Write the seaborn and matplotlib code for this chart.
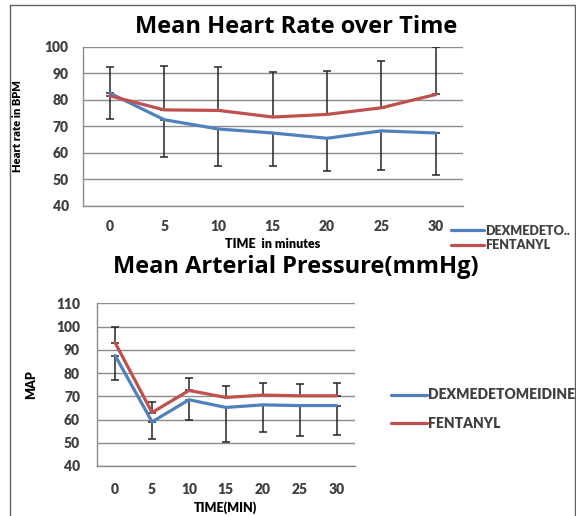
import numpy as np
import pandas as pd
import matplotlib
matplotlib.use('Agg')
import matplotlib.pyplot as plt
import seaborn as sns
from matplotlib.lines import Line2D

"""Values read off the reference"""
times = [0, 5, 10, 15, 20, 25, 30]

hr_dex = [82.5, 72.5, 69.0, 67.5, 65.5, 68.3, 67.5]
hr_fen = [81.5, 76.2, 76.0, 73.5, 74.5, 77.0, 82.0]
hr_upper = [92.5, 92.9, 92.4, 90.6, 90.8, 94.8, 100.0]   # top of fentanyl error bars
hr_lower = [72.8, 58.6, 55.0, 55.0, 53.3, 53.7, 51.7]    # bottom of dexmed error bars

map_dex = [87.5, 59.0, 68.5, 65.2, 66.3, 66.0, 66.0]
map_fen = [93.0, 63.0, 72.5, 69.5, 70.5, 70.2, 70.2]
map_upper = [99.8, 67.5, 78.0, 74.3, 75.5, 75.2, 75.5]
map_lower = [77.0, 51.7, 60.0, 50.2, 54.5, 52.8, 53.3]

BLUE = '#4F81BD'
RED = '#C0504D'
GRID = '#8c8c8c'
TXT = '#404040'

sns.set_style('white')
plt.rcParams['font.family'] = ['Lato', 'DejaVu Sans']
plt.rcParams['font.weight'] = 'bold'


def make_frame(dex, fen):
    df = pd.DataFrame({'time': times * 2,
                       'value': dex + fen,
                       'group': ['DEX'] * len(times) + ['FEN'] * len(times)})
    return df


def draw_panel(ax, dex, fen, upper, lower, ylim):
    df = make_frame(dex, fen)
    sns.lineplot(data=df, x='time', y='value', hue='group', palette=[BLUE, RED],
                 linewidth=2.3, ax=ax, legend=False, zorder=3)
    fen_a = np.array(fen)
    dex_a = np.array(dex)
    ax.errorbar(times, fen_a, yerr=[np.zeros(len(times)), np.array(upper) - fen_a],
                fmt='none', ecolor='#262626', elinewidth=1.1, capsize=3, capthick=1.1, zorder=2)
    ax.errorbar(times, dex_a, yerr=[dex_a - np.array(lower), np.zeros(len(times))],
                fmt='none', ecolor='#262626', elinewidth=1.1, capsize=3, capthick=1.1, zorder=2)

    ax.set_xlim(-2.5, 32.5)
    ax.set_ylim(*ylim)
    ax.set_xticks(times)
    ax.set_xticks(np.arange(-2.5, 33, 5), minor=True)
    ax.set_yticks(np.arange(ylim[0], ylim[1] + 1, 10))
    ax.yaxis.grid(True, color=GRID, linewidth=1)
    ax.xaxis.grid(False)
    for s in ['top', 'right']:
        ax.spines[s].set_visible(False)
    for s in ['left', 'bottom']:
        ax.spines[s].set_color(GRID)
        ax.spines[s].set_linewidth(1)
    ax.tick_params(axis='x', which='major', length=0, pad=10, labelsize=10, labelcolor=TXT)
    ax.tick_params(axis='x', which='minor', length=5, direction='inout', color=GRID, width=1)
    ax.tick_params(axis='y', length=4, color=GRID, width=1, pad=6, labelsize=10, labelcolor=TXT)
    for lab in ax.get_xticklabels() + ax.get_yticklabels():
        lab.set_fontweight('heavy')


fig = plt.figure(figsize=(5.76, 5.16), dpi=100)

ax1 = fig.add_axes([0.1436, 0.6008, 0.660, 0.3087])
draw_panel(ax1, hr_dex, hr_fen, hr_upper, hr_lower, (40, 100))
ax1.set_xlabel('TIME  in minutes', fontsize=9, color='black', fontweight='heavy')
ax1.xaxis.set_label_coords(0.5, -0.20)
ax1.set_ylabel('Heart rate in BPM', fontsize=8, color='black', fontweight='heavy')
ax1.yaxis.set_label_coords(-0.157, 0.5)

ax2 = fig.add_axes([0.1679, 0.0969, 0.4484, 0.3153])
draw_panel(ax2, map_dex, map_fen, map_upper, map_lower, (40, 110))
ax2.tick_params(axis='x', which='major', pad=12)
ax2.tick_params(axis='y', pad=8)
ax2.set_xlabel('TIME(MIN)', fontsize=9, color='black', fontweight='heavy')
ax2.xaxis.set_label_coords(0.5, -0.215)
ax2.set_ylabel('MAP', fontsize=9, color='black', fontweight='heavy')
ax2.yaxis.set_label_coords(-0.231, 0.5)

title_font = ['Open Sans', 'DejaVu Sans']
fig.text(296 / 576, 1 - 27 / 516, 'Mean Heart Rate over Time', ha='center', va='center',
         fontsize=17, fontweight='bold', color='black', family=title_font)
fig.text(296 / 576, 1 - 267 / 516, 'Mean Arterial Pressure(mmHg)', ha='center', va='center',
         fontsize=17, fontweight='bold', color='black', family=title_font)

handles = [Line2D([], [], color=BLUE, linewidth=2.3), Line2D([], [], color=RED, linewidth=2.3)]
fig.legend(handles, ['DEXMEDETO..', 'FENTANYL'], loc='center left',
           bbox_to_anchor=(445 / 576, 1 - 238 / 516), frameon=False,
           prop={'size': 9, 'weight': 'heavy'},
           handlelength=2.6, handletextpad=0.1, labelspacing=0.2, borderpad=0,
           labelcolor=TXT)
fig.legend(handles, ['DEXMEDETOMEIDINE', 'FENTANYL'], loc='center left',
           bbox_to_anchor=(384 / 576, 1 - 409 / 516), frameon=False,
           prop={'size': 10, 'weight': 'heavy'},
           handlelength=2.6, handletextpad=0.1, labelspacing=1.1, borderpad=0,
           labelcolor=TXT)

# outer frame of the figure
fig.add_artist(Line2D([10 / 576, 10 / 576, 575 / 576, 575 / 576], [0, 1 - 5 / 516, 1 - 5 / 516, 0],
                      transform=fig.transFigure, color='#606060', linewidth=1))

plt.savefig('out.png', dpi=100)
plt.close()
